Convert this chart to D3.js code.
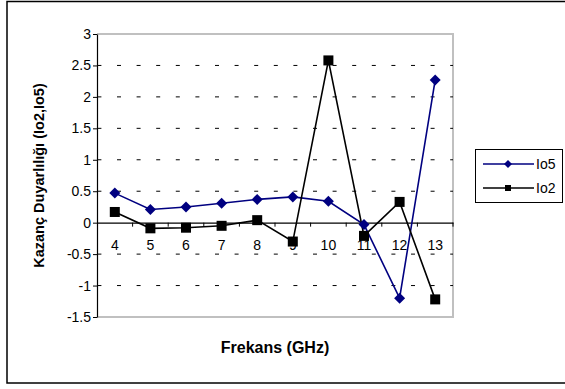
<!DOCTYPE html>
<html>
<head>
<meta charset="utf-8">
<script src="https://cdn.jsdelivr.net/npm/d3@7"></script>
<style>
body{margin:0;background:#fff;}
svg{display:block;font-family:"Liberation Sans",Arial,sans-serif;}
</style>
</head>
<body>
<svg id="c" width="565" height="389"></svg>
<script>
const categories = ["4","5","6","7","8","9","10","11","12","13"];
const io5 = [0.47,0.21,0.25,0.31,0.37,0.41,0.34,-0.03,-1.2,2.27];
const io2 = [0.17,-0.09,-0.08,-0.05,0.04,-0.30,2.58,-0.21,0.33,-1.22];
const yTicks = [3,2.5,2,1.5,1,0.5,0,-0.5,-1,-1.5];
const seriesNames = ["Io5","Io2"];

const svg = d3.select("#c");
const L = 97, R = 453, T = 34, B = 317;

// outer border
svg.append("rect").attr("x",7).attr("y",1.5).attr("width",600).attr("height",381.5)
  .attr("fill","#fff").attr("stroke","#000").attr("stroke-width",1.5);

const x = d3.scaleBand().domain(categories).range([L,R]);
const y = d3.scaleLinear().domain([-1.5,3]).range([B,T]);

// plot frame (grey)
svg.append("path").attr("d",`M${L},${T}H${R}V${B}H${L}`)
  .attr("fill","none").attr("stroke","#c0c0c0").attr("stroke-width",2);

// gridlines
svg.append("g").selectAll("line").data(yTicks.filter(v=>v!==3 && v!==0 && v!==-1.5)).join("line")
  .attr("x1",L).attr("x2",R).attr("y1",d=>y(d)).attr("y2",d=>y(d))
  .attr("stroke","#000").attr("stroke-width",1).attr("stroke-dasharray","4 15.6").attr("stroke-dashoffset",-0.4);

// y axis
const yAxis = d3.axisLeft(y).tickValues(yTicks).tickSize(4).tickSizeOuter(0).tickFormat(d=>String(d)).tickPadding(2);
const gy = svg.append("g").attr("transform",`translate(${L},0)`).call(yAxis);
gy.select(".domain").attr("stroke","#000").attr("stroke-width",1.2);
gy.selectAll(".tick line").attr("stroke","#000");
gy.selectAll("text").attr("font-size",14).attr("fill","#000").attr("font-family","Liberation Sans, Arial, sans-serif");

// x axis at zero
const xAxis = d3.axisBottom(x).tickSize(0).tickSizeOuter(0).tickPadding(17);
const gx = svg.append("g").attr("transform",`translate(0,${y(0)})`).call(xAxis);
gx.select(".domain").attr("stroke","#000").attr("stroke-width",1.2);
gx.selectAll("text").attr("font-size",14).attr("fill","#000").attr("font-family","Liberation Sans, Arial, sans-serif");
// boundary ticks
svg.append("g").selectAll("line").data(categories.slice(1).concat(["end"])).join("line")
  .attr("x1",d=>d==="end"?R:x(d)).attr("x2",d=>d==="end"?R:x(d))
  .attr("y1",y(0)).attr("y2",y(0)+4).attr("stroke","#000").attr("stroke-width",1);

const cx = d => x(d)+x.bandwidth()/2;
const line = d3.line().x((d,i)=>cx(categories[i])).y(d=>y(d));

// Io5
svg.append("path").datum(io5).attr("d",line).attr("fill","none").attr("stroke","#000080").attr("stroke-width",1.6);
// Io2
svg.append("path").datum(io2).attr("d",line).attr("fill","none").attr("stroke","#000").attr("stroke-width",1.6);

const diamond = (px,py,r)=>`M${px},${py-r}L${px+r},${py}L${px},${py+r}L${px-r},${py}Z`;
svg.append("g").selectAll("path").data(io5).join("path")
  .attr("d",(d,i)=>diamond(cx(categories[i]),y(d),5.5)).attr("fill","#000080");
svg.append("g").selectAll("rect").data(io2).join("rect")
  .attr("x",(d,i)=>cx(categories[i])-5).attr("y",d=>y(d)-5).attr("width",10).attr("height",10).attr("fill","#000");

// axis titles
svg.append("text").attr("x",(L+R)/2).attr("y",353).attr("text-anchor","middle")
  .attr("font-size",16).attr("font-weight","bold").text("Frekans (GHz)");
svg.append("text").attr("transform",`translate(44,${(T+B)/2}) rotate(-90)`).attr("text-anchor","middle")
  .attr("font-size",14.5).attr("font-weight","bold").text("Kazanç Duyarlılığı (Io2,Io5)");

// legend
const lg = svg.append("g");
lg.append("rect").attr("x",475.5).attr("y",149.5).attr("width",87).attr("height",53)
  .attr("fill","#fff").attr("stroke","#000").attr("stroke-width",1);
const lgY = [164,188];
const lgCol = ["#000080","#000"];
seriesNames.forEach((n,i)=>{
  lg.append("line").attr("x1",483).attr("x2",534).attr("y1",lgY[i]).attr("y2",lgY[i])
    .attr("stroke",lgCol[i]).attr("stroke-width",1.6);
  if(i===0) lg.append("path").attr("d",diamond(508,lgY[i],4)).attr("fill",lgCol[i]);
  else lg.append("rect").attr("x",505).attr("y",lgY[i]-3).attr("width",6).attr("height",6).attr("fill",lgCol[i]);
  lg.append("text").attr("x",536).attr("y",lgY[i]+5).attr("font-size",14).text(n);
});
</script>
</body>
</html>
